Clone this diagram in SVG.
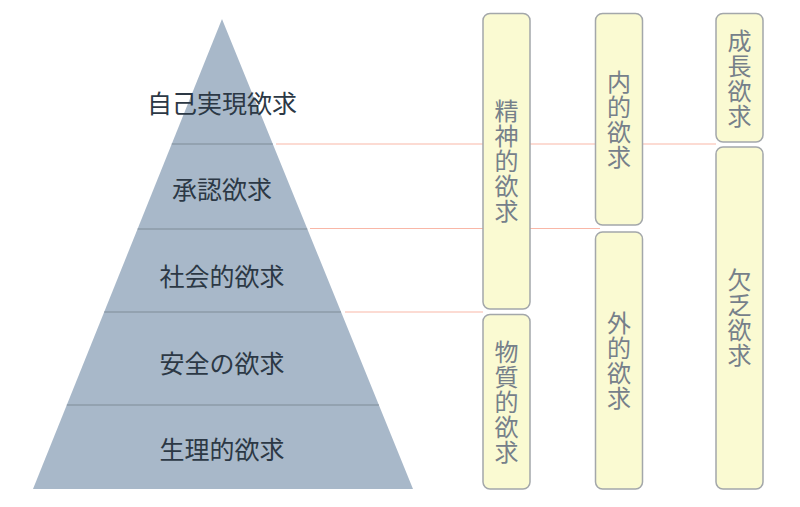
<svg xmlns="http://www.w3.org/2000/svg" width="800" height="507" viewBox="0 0 800 507">
<style>
.pyr{fill:#a8b8c9}
.div{stroke:#7f8b98;stroke-width:1.2}
.conn{stroke:#f9b7a7;stroke-width:1.2;fill:none}
.box{fill:#fafad2;stroke:#a3a7aa;stroke-width:1.5}
.lbl{font-family:"Noto Sans CJK JP","Noto Sans CJK SC",sans-serif;font-size:25px;fill:#2c3845;text-anchor:middle;dominant-baseline:central}
.vt{font-family:"Noto Sans CJK JP","Noto Sans CJK SC",sans-serif;font-size:24px;fill:#76808a;text-anchor:middle;writing-mode:vertical-rl;letter-spacing:1px}
</style>
<rect width="800" height="507" fill="#ffffff"/>
<g id="connectors">
<line class="conn" x1="276" y1="144" x2="716" y2="144"/>
<line class="conn" x1="310" y1="228.5" x2="600" y2="228.5"/>
<line class="conn" x1="345" y1="312" x2="483" y2="312"/>
</g>
<g id="pyramid">
<polygon class="pyr" points="222,19 413,489 33,489"/>
<line class="div" x1="171.7" y1="144" x2="272.8" y2="144"/>
<line class="div" x1="137.6" y1="229" x2="307.3" y2="229"/>
<line class="div" x1="104.2" y1="312" x2="341" y2="312"/>
<line class="div" x1="66.8" y1="405" x2="378.9" y2="405"/>
</g>
<g id="n1"><text class="lbl" x="222" y="102">自己実現欲求</text></g>
<g id="n2"><text class="lbl" x="222" y="188">承認欲求</text></g>
<g id="n3"><text class="lbl" x="222" y="275">社会的欲求</text></g>
<g id="n4"><text class="lbl" x="222" y="362">安全の欲求</text></g>
<g id="n5"><text class="lbl" x="222" y="448">生理的欲求</text></g>
<g id="b1"><rect class="box" x="483" y="13.5" width="47" height="295.5" rx="7"/>
<text class="vt" x="506.5" y="161">精神的欲求</text></g>
<g id="b2"><rect class="box" x="483" y="314.5" width="47" height="174.5" rx="7"/>
<text class="vt" x="506.5" y="402">物質的欲求</text></g>
<g id="b3"><rect class="box" x="595.5" y="13.5" width="47" height="211.5" rx="7"/>
<text class="vt" x="619" y="119.5">内的欲求</text></g>
<g id="b4"><rect class="box" x="595.5" y="232" width="47" height="257" rx="7"/>
<text class="vt" x="619" y="360.5">外的欲求</text></g>
<g id="b5"><rect class="box" x="716" y="13.5" width="47" height="128.5" rx="7"/>
<text class="vt" x="739.5" y="78.5">成長欲求</text></g>
<g id="b6"><rect class="box" x="716" y="147" width="47" height="342" rx="7"/>
<text class="vt" x="739.5" y="317.5">欠乏欲求</text></g>
</svg>
